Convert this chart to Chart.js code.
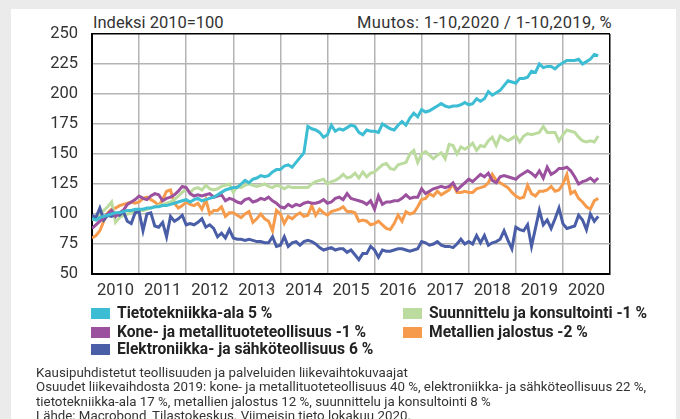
<!DOCTYPE html>
<html>
<head>
<meta charset="utf-8">
<script src="https://cdn.jsdelivr.net/npm/chart.js@4/dist/chart.umd.min.js"></script>
<style>
html,body{margin:0;padding:0;}
body{width:680px;height:419px;background:#ebebeb;position:relative;overflow:hidden;font-family:Roboto,sans-serif;color:#333;}
#panel{position:absolute;left:11px;top:9px;width:665px;height:410px;background:#fff;}
#wrap{position:absolute;left:0;top:0;width:680px;height:310px;}
.t{position:absolute;font-size:16.5px;line-height:16px;white-space:nowrap;color:#333;}
.lg{position:absolute;height:18px;line-height:18px;font-family:Roboto,sans-serif;font-weight:bold;font-size:15.6px;color:#222;white-space:nowrap;}
.sw{position:absolute;width:19px;height:11px;}
#foot{position:absolute;left:36px;top:366px;font-family:Roboto,sans-serif;font-size:13.3px;line-height:14.4px;color:#333;white-space:nowrap;}
</style>
</head>
<body>
<div id="panel"></div>
<div class="t" style="left:93px;top:15px;">Indeksi 2010=100</div>
<div class="t" style="right:68px;top:15px;letter-spacing:0.35px;">Muutos: 1-10,2020 / 1-10,2019, %</div>
<div id="wrap"><canvas id="c" width="680" height="310"></canvas></div>
<div id="legend"></div>
<div id="foot">Kausipuhdistetut teollisuuden ja palveluiden liikevaihtokuvaajat<br>Osuudet liikevaihdosta 2019: kone- ja metallituoteteollisuus 40 %, elektroniikka- ja sähköteollisuus 22 %,<br>tietotekniikka-ala 17 %, metallien jalostus 12 %, suunnittelu ja konsultointi 8 %<br>Lähde: Macrobond, Tilastokeskus. Viimeisin tieto lokakuu 2020.</div>
<script>
// Years (tick labels); monthly data Jan 2010 – Oct 2020
const years = ["2010","2011","2012","2013","2014","2015","2016","2017","2018","2019","2020"];

const tietotekniikka = [
 96,95,97,98,99,100,101,101,102,103,103,104,
 104,104,105,105,106,106,107,107,108,109,110,111,
 112,110,112,113,111,112,113,114,116,118,120,121,
 122,122,125,128,126,129,130,132,131,132,135,137,
 137,140,141,139,143,147,151,173,171,170,168,164,
 166,174,169,171,170,172,174,173,168,166,170,169,
 169,168,175,173,171,170,174,177,174,180,184,181,
 187,185,186,188,190,192,190,189,190,190,191,193,
 191,192,196,194,196,202,199,201,203,207,211,210,
 209,213,213,214,219,218,225,222,223,223,221,224,
 226,228,228,228,229,225,227,229,233,232];

const suunnittelu = [
 95,97,99,103,106,110,93,97,99,100,101,102,
 103,103,104,105,106,107,108,109,110,112,115,118,
 121,118,121,122,120,124,121,120,121,123,124,125,
 118,123,122,124,125,124,123,124,125,123,122,124,
 123,121,123,122,122,122,122,122,125,127,128,129,
 125,127,128,130,133,130,131,134,130,135,131,134,
 135,138,141,142,138,137,141,142,143,150,153,143,
 150,152,149,146,149,151,146,158,157,150,156,154,
 156,159,153,157,156,161,164,157,165,163,161,163,
 165,160,165,167,166,167,168,173,168,168,168,161,
 166,170,169,168,164,161,160,161,160,165];

const kone = [
 88,91,94,97,100,103,98,101,103,108,110,112,
 115,113,112,115,117,116,111,113,114,116,119,123,
 122,117,115,116,115,116,117,114,115,116,111,113,
 112,110,109,112,113,110,111,113,112,114,111,109,
 106,105,108,106,108,107,109,110,109,109,110,112,
 109,110,113,114,112,117,113,112,111,110,108,111,
 104,115,108,110,110,111,111,113,116,113,114,114,
 121,117,119,121,122,123,122,123,126,120,123,126,
 129,127,130,133,131,134,128,126,131,132,131,130,
 129,132,134,136,134,131,136,130,139,133,135,138,
 138,139,136,131,125,127,128,130,127,130];

const metallien = [
 80,82,86,94,101,104,105,107,108,109,110,109,
 110,113,114,112,110,107,112,119,120,109,105,107,
 110,108,107,109,104,112,100,103,103,106,98,101,
 101,99,97,100,102,93,96,100,96,94,86,103,
 100,92,98,96,99,101,98,99,107,99,104,101,
 99,102,103,104,106,102,102,101,94,95,94,91,
 92,94,91,88,87,92,99,94,102,100,101,106,
 112,113,117,115,119,116,118,120,125,118,118,119,
 118,118,121,122,123,126,133,128,126,124,122,118,
 115,113,114,124,117,115,119,119,120,123,119,120,
 125,133,117,119,113,110,106,104,111,113];

const elektroniikka = [
 99,97,105,95,99,98,100,99,102,94,92,101,
 102,86,100,101,90,89,93,81,98,94,96,99,
 91,92,91,93,96,89,91,88,81,84,80,87,
 80,79,79,78,79,78,77,77,76,76,81,73,
 74,81,73,76,77,74,77,78,77,75,72,70,
 71,72,70,71,71,68,70,66,62,67,67,73,
 70,64,70,69,69,70,71,71,70,69,70,71,
 77,76,74,75,77,74,73,73,72,75,79,75,
 77,75,82,76,82,74,76,77,79,86,78,71,
 89,87,86,91,73,88,103,91,95,88,96,105,
 92,88,89,90,99,95,87,100,94,98];

const seriesNames = ["Tietotekniikka-ala 5 %","Kone- ja metallituoteteollisuus -1 %","Elektroniikka- ja sähköteollisuus 6 %","Suunnittelu ja konsultointi -1 %","Metallien jalostus -2 %"];
const seriesColors = ["#3dbdd3","#9b519e","#4a5ea8","#bcdb9f","#f59b4b"];
const seriesData = [tietotekniikka, kone, elektroniikka, suunnittelu, metallien];

const toXY = arr => arr.map((v,i)=>({x:i,y:v}));

// legend (HTML)
const legendPos = [[91,304],[91,323],[91,340],[403,304],[403,323]];
const lg = document.getElementById('legend');
seriesNames.forEach((n,i)=>{
  const sw=document.createElement('div'); sw.className='sw';
  sw.style.left=legendPos[i][0]+'px'; sw.style.top=(legendPos[i][1]+3.5)+'px'; sw.style.background=seriesColors[i];
  lg.appendChild(sw);
  const tx=document.createElement('div'); tx.className='lg';
  tx.style.left=(legendPos[i][0]+26)+'px'; tx.style.top=legendPos[i][1]+'px'; tx.textContent=n;
  lg.appendChild(tx);
});

new Chart(document.getElementById('c'), {
  type:'line',
  data:{
    datasets: seriesData.map((d,i)=>({
      label: seriesNames[i], data: toXY(d), borderColor: seriesColors[i],
      backgroundColor: seriesColors[i], borderWidth:3, pointRadius:0, tension:0, fill:false
    }))
  },
  options:{
    responsive:false, animation:false,
    layout:{padding:{left:0,top:34,right:70,bottom:6}},
    plugins:{legend:{display:false},tooltip:{enabled:false}},
    scales:{
      x:{
        type:'linear', min:0, max:132,
        afterFit: s=>{ s.height=30; },
        afterBuildTicks: s=>{ const t=[]; for(let v=0; v<=132; v+=6) t.push({value:v}); s.ticks=t; },
        ticks:{ autoSkip:false, maxRotation:0, padding:7, color:'#333',
          font:{family:'Roboto', size:16.5},
          callback:(v)=> (v%12===6) ? years[(v-6)/12] : '' },
        grid:{ drawTicks:false, lineWidth:1.5,
          color: ctx => { const v=ctx.tick&&ctx.tick.value; if(v===132) return '#000'; return (v%12===0)?'#b4b4b4':'rgba(0,0,0,0)'; } },
        border:{display:true,color:'#000',width:2}
      },
      y:{
        min:50, max:250,
        afterFit: s=>{ s.width=92; },
        ticks:{ stepSize:25, padding:14, color:'#333', font:{family:'Roboto', size:16.5} },
        grid:{ drawTicks:false, lineWidth:1.5,
          color: ctx => (ctx.tick && ctx.tick.value===250) ? '#000' : '#b4b4b4' },
        border:{display:true,color:'#000',width:2}
      }
    }
  }
});
</script>
</body>
</html>
